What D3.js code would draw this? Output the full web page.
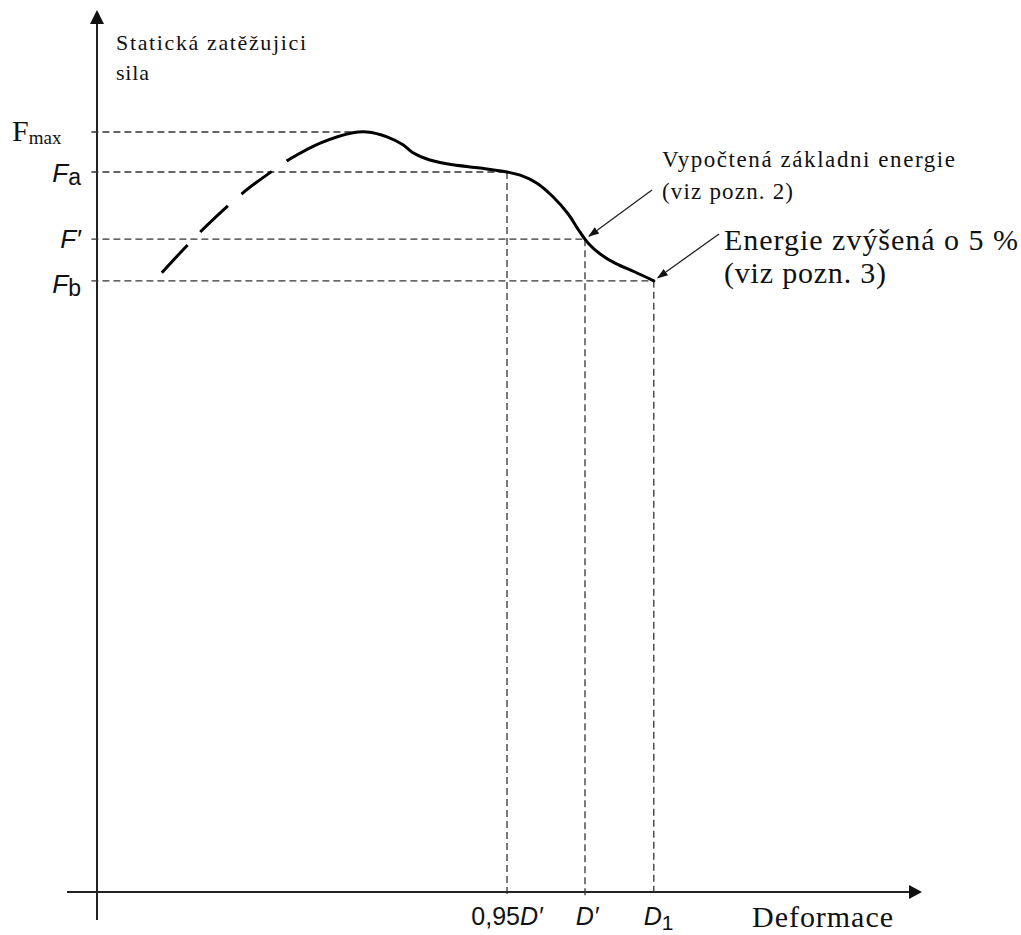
<!DOCTYPE html>
<meta charset="utf-8">
<title>Statická zatěžující síla – deformace</title>
<style>
  body { margin: 0; background: #fff; }
  svg { display: block; }
  .serif { font-family: "Liberation Serif", "Times New Roman", serif; fill: #111; }
  .sans { font-family: "Liberation Sans", Arial, sans-serif; fill: #111; }
  .axis-line { stroke: #222; stroke-width: 2; fill: none; }
  .ref { stroke: #333; stroke-width: 1.3; stroke-dasharray: 7,4; fill: none; }
  .curve { stroke: #000; stroke-width: 3; fill: none; stroke-linecap: round; }
  .curve.dashed { stroke-dasharray: 38,18; stroke-linecap: butt; }
  .pointer { stroke: #222; stroke-width: 1.3; fill: none; }
</style>
<body>
<script src="https://d3js.org/d3.v7.min.js"></script>
<script>
// characteristic levels (arbitrary units)
var forceLevels = { Fmax: 95, Fa: 90, Fprime: 81.6, Fb: 76.4 };
var deformLevels = { D095: 51.25, Dprime: 61.0, D1: 69.6 };

// rising part of the curve (drawn dashed)
var riseX = [8.1, 12.9, 18.5, 23.9];
var riseY = [77.4, 82.5, 87.6, 91.5];

// solid part of the curve
var curveX = [23.9, 27.9, 32.0, 33.75, 36.25, 38.25, 39.5, 41.6, 44.5, 47.9, 51.25,
              52.9, 55.0, 57.0, 58.9, 60.1, 61.4, 62.9, 64.75, 67.25, 69.6];
var curveY = [91.5, 93.6, 94.9, 95.0, 94.4, 93.4, 92.4, 91.5, 90.9, 90.5, 90.0,
              89.6, 88.6, 86.9, 84.75, 82.9, 81.1, 79.75, 78.6, 77.5, 76.4];

var width = 1021, height = 935;

var x = d3.scaleLinear().domain([0, 100]).range([97, 897]);
var y = d3.scaleLinear().domain([0, 100]).range([892, 92]);

var svg = d3.select("body").append("svg")
    .attr("width", width)
    .attr("height", height);

var defs = svg.append("defs");
defs.append("marker")
    .attr("id", "head")
    .attr("viewBox", "0 0 10 10")
    .attr("refX", 9).attr("refY", 5)
    .attr("markerWidth", 11).attr("markerHeight", 11)
    .attr("markerUnits", "userSpaceOnUse")
    .attr("orient", "auto")
  .append("path")
    .attr("d", "M0,1.5L10,5L0,8.5Z")
    .attr("fill", "#111");

// axes
svg.append("line").attr("class", "axis-line")
    .attr("x1", x(0)).attr("x2", x(0))
    .attr("y1", y(-3.5)).attr("y2", y(108.5));
svg.append("path")
    .attr("d", "M" + x(0) + "," + (y(108.5) - 14) + "l-7,14h14z")
    .attr("fill", "#111");

svg.append("line").attr("class", "axis-line")
    .attr("x1", x(-3.75)).attr("x2", x(101.5))
    .attr("y1", y(0)).attr("y2", y(0));
svg.append("path")
    .attr("d", "M" + (x(101.5) + 13) + "," + y(0) + "l-13,-7v14z")
    .attr("fill", "#111");

// reference lines
var hLines = [
  { v: forceLevels.Fmax, to: 33.75 },
  { v: forceLevels.Fa, to: deformLevels.D095 },
  { v: forceLevels.Fprime, to: deformLevels.Dprime },
  { v: forceLevels.Fb, to: deformLevels.D1 }
];
svg.selectAll("line.h").data(hLines).enter().append("line")
    .attr("class", "ref h")
    .attr("x1", x(-0.7)).attr("x2", function(d) { return x(d.to); })
    .attr("y1", function(d) { return y(d.v); }).attr("y2", function(d) { return y(d.v); });

var vLines = [
  { v: deformLevels.D095, from: forceLevels.Fa },
  { v: deformLevels.Dprime, from: forceLevels.Fprime },
  { v: deformLevels.D1, from: forceLevels.Fb }
];
svg.selectAll("line.v").data(vLines).enter().append("line")
    .attr("class", "ref v")
    .attr("x1", function(d) { return x(d.v); }).attr("x2", function(d) { return x(d.v); })
    .attr("y1", function(d) { return y(d.from); }).attr("y2", y(-0.6));

// curve
var line = d3.line()
    .x(function(d) { return x(d[0]); })
    .y(function(d) { return y(d[1]); })
    .curve(d3.curveCatmullRom.alpha(0.5));

svg.append("path").attr("class", "curve dashed")
    .attr("d", line(d3.zip(riseX, riseY)));
svg.append("path").attr("class", "curve")
    .attr("d", line(d3.zip(curveX, curveY)));

// y labels
svg.append("text").attr("class", "serif")
    .attr("x", 116).attr("y", 50)
    .attr("font-size", 22).attr("textLength", 190).attr("lengthAdjust", "spacing")
    .text("Statická zatěžujici");
svg.append("text").attr("class", "serif")
    .attr("x", 116).attr("y", 80)
    .attr("font-size", 22).attr("textLength", 33).attr("lengthAdjust", "spacing")
    .text("sila");

var fmax = svg.append("text").attr("class", "serif")
    .attr("x", 12).attr("y", y(forceLevels.Fmax) + 9).attr("font-size", 30);
fmax.append("tspan").text("F");
fmax.append("tspan").attr("font-size", 19).attr("dy", 3).text("max");

var fLabels = [
  { v: forceLevels.Fa, main: "F", sub: "a", dy: 10 },
  { v: forceLevels.Fprime, main: "F′", sub: "", dy: 9 },
  { v: forceLevels.Fb, main: "F", sub: "b", dy: 12 }
];
fLabels.forEach(function(d) {
  var t = svg.append("text").attr("class", "sans")
      .attr("x", 81).attr("y", y(d.v) + d.dy)
      .attr("text-anchor", "end").attr("font-size", 26);
  t.append("tspan").attr("font-style", "italic").text(d.main);
  if (d.sub) t.append("tspan").attr("font-size", 23).attr("dy", 3).text(d.sub);
});

// x labels
var lab095 = svg.append("text").attr("class", "sans")
    .attr("x", x(deformLevels.D095)).attr("y", 925)
    .attr("text-anchor", "middle").attr("font-size", 25);
lab095.append("tspan").text("0,95");
lab095.append("tspan").attr("font-style", "italic").text("D′");

svg.append("text").attr("class", "sans")
    .attr("x", x(deformLevels.Dprime) + 2).attr("y", 925)
    .attr("text-anchor", "middle").attr("font-size", 25).attr("font-style", "italic")
    .text("D′");

var labD1 = svg.append("text").attr("class", "sans")
    .attr("x", x(deformLevels.D1) - 10).attr("y", 925).attr("font-size", 25);
labD1.append("tspan").attr("font-style", "italic").text("D");
labD1.append("tspan").attr("font-size", 21).attr("dy", 5).text("1");

svg.append("text").attr("class", "serif")
    .attr("x", 752).attr("y", 927)
    .attr("font-size", 30).attr("textLength", 141).attr("lengthAdjust", "spacing")
    .text("Deformace");

// annotations
var notes = [
  { px: forceLevels.Fprime, dx: deformLevels.Dprime, tx: 662, ty: 167, size: 23,
    lines: ["Vypočtená základni energie", "(viz pozn. 2)"], widths: [293, 131], gap: 32,
    from: [652, 190] },
  { px: forceLevels.Fb, dx: deformLevels.D1, tx: 724, ty: 250, size: 30,
    lines: ["Energie zvýšená o 5 %", "(viz pozn. 3)"], widths: [294, 162], gap: 33,
    from: [719, 234] }
];
notes.forEach(function(n) {
  n.lines.forEach(function(s, i) {
    svg.append("text").attr("class", "serif")
        .attr("x", n.tx).attr("y", n.ty + i * n.gap)
        .attr("font-size", n.size)
        .attr("textLength", n.widths[i]).attr("lengthAdjust", "spacing")
        .text(s);
  });
  svg.append("line").attr("class", "pointer")
      .attr("x1", n.from[0]).attr("y1", n.from[1])
      .attr("x2", x(n.dx) + 4).attr("y2", y(n.px) - 3)
      .attr("marker-end", "url(#head)");
});
</script>
</body>
